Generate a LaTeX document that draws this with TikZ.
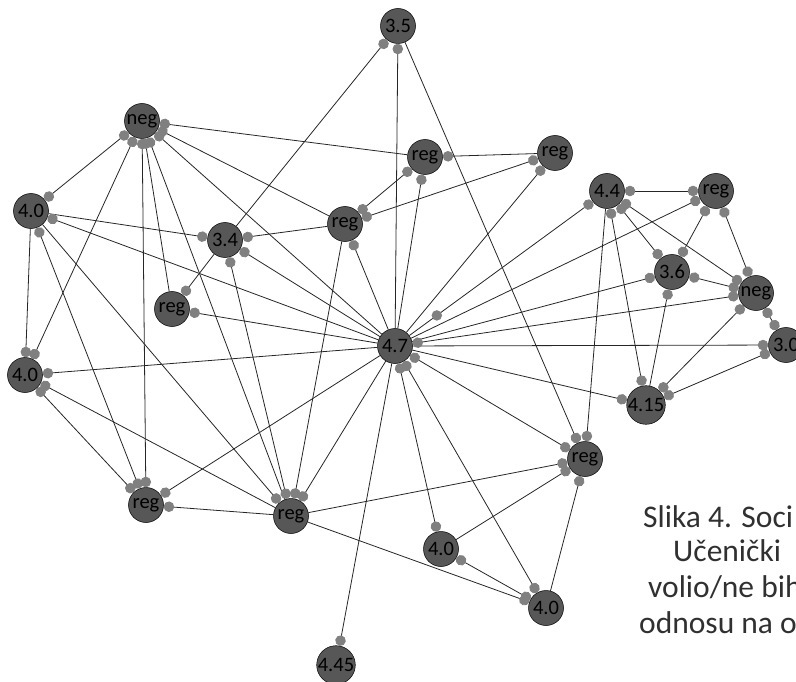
\documentclass[tikz,border=0pt]{standalone}
\usepackage{fontspec}
\setmainfont{Carlito}
\usetikzlibrary{arrows.meta}
\definecolor{nodec}{HTML}{575757}
\definecolor{dotc}{HTML}{808080}
\definecolor{capc}{HTML}{303030}
\begin{document}
\begin{tikzpicture}[x=1pt,y=-1pt,
 nd/.style={circle,minimum size=35pt,inner sep=0pt,fill=nodec,draw=black,line width=0.5pt,font=\fontsize{20.5}{20.5}\selectfont},
 lnk/.style={draw=black!85,line width=0.8pt},
 tb/.style={-{Circle[length=10.5pt,color=dotc]}},
 ta/.style={{Circle[length=10.5pt,color=dotc]}-},
 tab/.style={{Circle[length=10.5pt,color=dotc]}-{Circle[length=10.5pt,color=dotc]}},
 dotn/.style={circle,fill=dotc,minimum size=10.5pt,inner sep=0pt},
 capt/.style={anchor=base west,inner sep=0pt,text=capc,font=\fontsize{31.5}{36}\selectfont}]
\useasboundingbox (0,0) rectangle (796,682);
% nodes
\node[nd] (n35) at (398,26) {3.5};
\node[nd] (nneg) at (142,121) {neg};
\node[nd] (rA) at (425,157) {reg};
\node[nd] (rB) at (555,153) {reg};
\node[nd] (n40a) at (31,211) {4.0};
\node[nd] (n34) at (225,240) {3.4};
\node[nd] (rC) at (345,224) {reg};
\node[nd] (n44) at (607,191) {4.4};
\node[nd] (rD) at (716,191) {reg};
\node[nd] (n36) at (672,272) {3.6};
\node[nd] (nnegR) at (756,293) {neg};
\node[nd] (rE) at (172,309) {reg};
\node[nd] (n47) at (395,346) {4.7};
\node[nd] (n30) at (786,345) {3.0};
\node[nd] (n40b) at (25,375) {4.0};
\node[nd] (n415) at (646,405) {4.15};
\node[nd] (rF) at (585,459) {reg};
\node[nd] (rG) at (146,505) {reg};
\node[nd] (rH) at (291,516) {reg};
\node[nd] (n40c) at (441,549) {4.0};
\node[nd] (n40d) at (546,608) {4.0};
\node[nd] (n445) at (336,665) {4.45};
% edges
\draw[lnk,ta] (nneg) -- (rA);
\draw[lnk,ta] (nneg) -- (rC);
\draw[lnk,ta] (nneg) -- (n47);
\draw[lnk,tab] (nneg) -- (n40a);
\draw[lnk,tab] (nneg) -- (n40b);
\draw[lnk,tab] (nneg) -- (rG);
\draw[lnk,ta] (nneg) -- (rE);
\draw[lnk,ta] (nneg) -- (rH);
\draw[lnk,tb] (n40a) -- (n34);
\draw[lnk,ta] (n40a) -- (n47);
\draw[lnk,tb] (n40a) -- (n40b);
\draw[lnk,tab] (n40a) -- (rG);
\draw[lnk,tb] (n40a) -- (rH);
\draw[lnk,ta] (n40b) -- (n47);
\draw[lnk,tab] (n40b) -- (rG);
\draw[lnk,ta] (n40b) -- (rH);
\draw[lnk,ta] (rG) -- (n47);
\draw[lnk,ta] (rG) -- (rH);
\draw[lnk,tab] (rH) -- (n34);
\draw[lnk,ta] (rH) -- (rC);
\draw[lnk,ta] (rH) -- (n47);
\draw[lnk,tb] (rH) -- (rF);
\draw[lnk,tb] (rH) -- (n40d);
\draw[lnk,ta] (n445) -- (n47);
\draw[lnk,tab] (n47) -- (n40c);
\draw[lnk,tab] (n47) -- (n40d);
\draw[lnk,tab] (n47) -- (rF);
\draw[lnk,tb] (n47) -- (n415);
\draw[lnk,tb] (n47) -- (n30);
\draw[lnk,tb] (n47) -- (n35);
\draw[lnk,tb] (n47) -- (rC);
\draw[lnk,tb] (n47) -- (n34);
\draw[lnk,tb] (n47) -- (rE);
\draw[lnk,tb] (n47) -- (rB);
\draw[lnk,tb] (n47) -- (rA);
\draw[lnk,tb] (n47) -- (n44) node[dotn,pos=0.15] (d1) {};
\draw[lnk,tb] (n47) -- (rD);
\draw[lnk,tb] (n47) -- (n36);
\draw[lnk,tab] (n47) -- (nnegR);
\draw[lnk,tb] (n35) -- (rF);
\draw[lnk,ta] (n35) -- (n34);
\draw[lnk,ta] (rA) -- (rB);
\draw[lnk,tab] (rA) -- (rC);
\draw[lnk,tab] (rB) -- (rC);
\draw[lnk,tb] (rC) -- (n34);
\draw[lnk,tb] (n34) -- (rE);
\draw[lnk,tab] (n44) -- (rD);
\draw[lnk,tab] (n44) -- (n36);
\draw[lnk,tab] (n44) -- (nnegR);
\draw[lnk,tb] (n44) -- (rF);
\draw[lnk,tab] (n44) -- (n415);
\draw[lnk,tab] (rD) -- (n36);
\draw[lnk,tab] (rD) -- (nnegR);
\draw[lnk,tab] (n36) -- (nnegR);
\draw[lnk,ta] (n36) -- (n415);
\draw[lnk,tab] (nnegR) -- (n30);
\draw[lnk,tab] (nnegR) -- (n415);
\draw[lnk,tab] (n30) -- (n415);
\draw[lnk,tb] (n40c) -- (rF);
\draw[lnk,tb] (n40d) -- (rF);
\draw[lnk,tab] (n40c) -- (n40d);
% caption
\node[capt] (c1) at (643,527) {Slika 4. Soci};
\node[capt] (c2) at (673,561) {Učenički};
\node[capt] (c3) at (648,597) {volio/ne bih};
\node[capt] (c4) at (639,633) {odnosu na o};
\end{tikzpicture}
\end{document}
